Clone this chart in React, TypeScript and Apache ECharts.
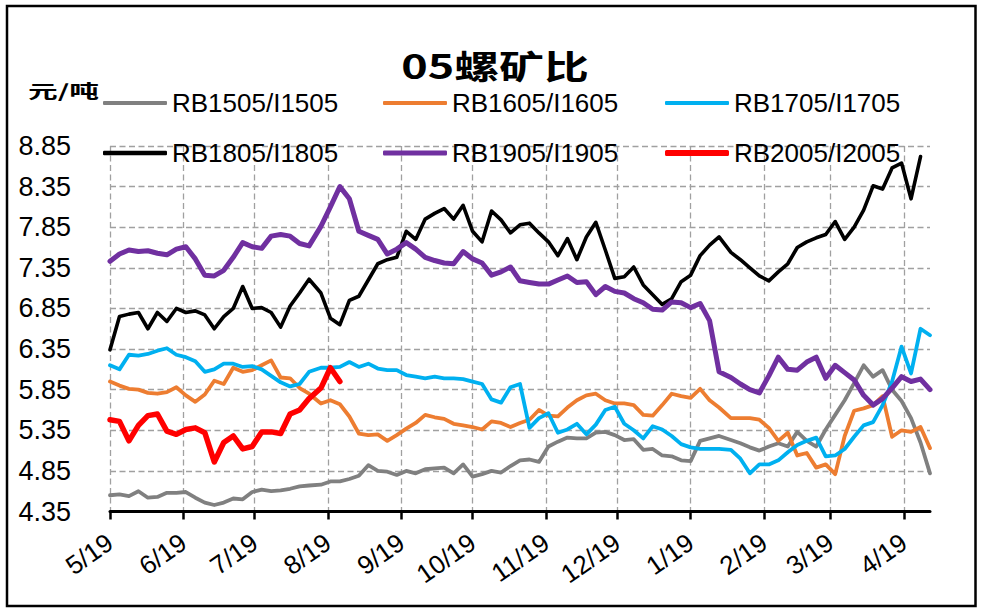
import React, { useEffect, useRef } from "react";
import * as echarts from "echarts";

// ---- axis: one category per calendar day, 5/19 .. 4/30 ----
const START_UTC = Date.UTC(2018, 4, 19);
const DAY_COUNT = 347;
const DATES: string[] = Array.from({ length: DAY_COUNT }, (_, i) => {
  const d = new Date(START_UTC + i * 86400000);
  return `${d.getUTCMonth() + 1}/${d.getUTCDate()}`;
});
// values below are read at evenly spaced dates across the span
const SAMPLE_COUNT = 87;
const sampleDay = (i: number) => Math.round((i * (DAY_COUNT - 1)) / (SAMPLE_COUNT - 1));

const Y_TICKS = [4.35, 4.85, 5.35, 5.85, 6.35, 6.85, 7.35, 7.85, 8.35, 8.85];

const TITLE = "05螺矿比";
const UNIT = "元/吨";

const NAMES = ["RB1505/I1505", "RB1605/I1605", "RB1705/I1705", "RB1805/I1805", "RB1905/I1905", "RB2005/I2005"];
const COLORS = ["#808080", "#ED7D31", "#00B0F0", "#000000", "#7030A0", "#FF0000"];

const RB1505 = [
  4.55, 4.56, 4.54, 4.60, 4.52, 4.53, 4.58, 4.58, 4.59, 4.52,
  4.46, 4.43, 4.46, 4.51, 4.50, 4.59, 4.62, 4.60, 4.61, 4.63,
  4.66, 4.67, 4.68, 4.72, 4.72, 4.75, 4.79, 4.92, 4.85, 4.84,
  4.80, 4.85, 4.82, 4.87, 4.88, 4.89, 4.82, 4.93, 4.78, 4.81,
  4.85, 4.83, 4.91, 4.98, 4.99, 4.96, 5.15, 5.21, 5.26, 5.25,
  5.25, 5.32, 5.33, 5.29, 5.23, 5.24, 5.11, 5.12, 5.04, 5.03,
  4.98, 4.97, 5.22, 5.25, 5.28, 5.23, 5.19, 5.14, 5.10, 5.15,
  5.19, 5.15, 5.33, 5.22, 5.15, 5.36, 5.54, 5.72, 5.93, 6.15,
  6.01, 6.09, 5.85, 5.71, 5.50, 5.20, 4.82,
];
const RB1605 = [
  5.95, 5.90, 5.86, 5.85, 5.81, 5.80, 5.82, 5.88, 5.78, 5.70,
  5.79, 5.96, 5.92, 6.12, 6.07, 6.09, 6.15, 6.21, 6.00, 5.99,
  5.87, 5.80, 5.68, 5.72, 5.67, 5.52, 5.31, 5.29, 5.30, 5.22,
  5.29, 5.37, 5.44, 5.54, 5.51, 5.49, 5.43, 5.41, 5.39, 5.36,
  5.46, 5.44, 5.39, 5.44, 5.48, 5.60, 5.53, 5.52, 5.63, 5.72,
  5.78, 5.80, 5.72, 5.68, 5.68, 5.66, 5.54, 5.53, 5.66, 5.80,
  5.77, 5.75, 5.86, 5.72, 5.63, 5.50, 5.50, 5.50, 5.48, 5.38,
  5.22, 5.32, 5.04, 5.07, 4.89, 4.93, 4.81, 5.28, 5.59, 5.62,
  5.66, 5.77, 5.27, 5.35, 5.33, 5.39, 5.13,
];
const RB1705 = [
  6.15, 6.10, 6.28, 6.27, 6.29, 6.33, 6.36, 6.28, 6.25, 6.20,
  6.07, 6.10, 6.17, 6.17, 6.13, 6.14, 6.10, 6.02, 5.94, 5.89,
  5.92, 6.07, 6.12, 6.12, 6.13, 6.19, 6.13, 6.17, 6.11, 6.09,
  6.09, 6.03, 6.01, 5.99, 6.01, 5.99, 5.99, 5.98, 5.95, 5.92,
  5.73, 5.69, 5.88, 5.92, 5.38, 5.50, 5.56, 5.32, 5.36, 5.43,
  5.30, 5.42, 5.60, 5.64, 5.43, 5.35, 5.25, 5.40, 5.36, 5.28,
  5.18, 5.14, 5.12, 5.12, 5.12, 5.11, 5.00, 4.82, 4.93, 4.93,
  4.98, 5.08, 5.17, 5.22, 5.26, 5.03, 5.04, 5.12, 5.27, 5.41,
  5.45, 5.66, 5.95, 6.38, 6.05, 6.60, 6.52,
];
const RB1805 = [
  6.34, 6.75, 6.78, 6.80, 6.60, 6.80, 6.69, 6.85, 6.80, 6.82,
  6.77, 6.60, 6.75, 6.85, 7.12, 6.85, 6.86, 6.80, 6.62, 6.88,
  7.04, 7.21, 7.04, 6.73, 6.65, 6.95, 7.00, 7.20, 7.40, 7.45,
  7.48, 7.80, 7.70, 7.95, 8.02, 8.08, 7.95, 8.12, 7.80, 7.67,
  8.05, 7.94, 7.78, 7.88, 7.90, 7.78, 7.67, 7.50, 7.71, 7.45,
  7.73, 7.91, 7.57, 7.22, 7.24, 7.36, 7.14, 7.02, 6.90, 6.97,
  7.18, 7.26, 7.50, 7.63, 7.73, 7.54, 7.45, 7.35, 7.25, 7.19,
  7.30, 7.40, 7.60, 7.67, 7.72, 7.76, 7.92, 7.70, 7.85, 8.06,
  8.36, 8.32, 8.58, 8.64, 8.20, 8.72,
];
const RB1905 = [
  7.43, 7.52, 7.57, 7.55, 7.56, 7.53, 7.51, 7.58, 7.61, 7.46,
  7.26, 7.25, 7.32, 7.48, 7.66, 7.61, 7.59, 7.74, 7.76, 7.74,
  7.65, 7.62, 7.86, 8.10, 8.35, 8.20, 7.80, 7.75, 7.70, 7.52,
  7.58, 7.66, 7.58, 7.48, 7.44, 7.41, 7.40, 7.55, 7.46, 7.41,
  7.26, 7.30, 7.36, 7.19, 7.17, 7.15, 7.15, 7.20, 7.25, 7.17,
  7.18, 7.02, 7.12, 7.06, 7.04, 6.97, 6.92, 6.84, 6.83, 6.93,
  6.92, 6.86, 6.91, 6.70, 6.07, 6.00, 5.92, 5.85, 5.81, 6.02,
  6.25, 6.10, 6.09, 6.19, 6.25, 5.99, 6.15, 6.06, 5.97, 5.78,
  5.66, 5.74, 5.87, 6.01, 5.95, 5.98, 5.85,
];
const RB2005 = [
  5.48, 5.46, 5.22, 5.41, 5.53, 5.55, 5.34, 5.30, 5.36, 5.38,
  5.32, 4.96, 5.20, 5.28, 5.12, 5.15, 5.33, 5.33, 5.31, 5.55,
  5.60, 5.74, 5.87, 6.12, 5.95,
];

const VALUES = [RB1505, RB1605, RB1705, RB1805, RB1905, RB2005];
const LINE_WIDTHS = [3.8, 3.8, 3.8, 3.6, 5, 5.5];
const LEGEND_ICON_H = [4, 4, 4, 4.5, 5, 6];
const LEGEND_LEFT = [103, 383, 665];
const LEGEND_TOP = [90, 140];

export default function App() {
  const ref = useRef<HTMLDivElement>(null);
  useEffect(() => {
    if (!ref.current) return;
    const chart = echarts.init(ref.current, undefined, { renderer: "svg" });
    const series = NAMES.map((name, s) => ({
      name,
      type: "line",
      data: VALUES[s].map((v, i) => [sampleDay(i), v]),
      showSymbol: false,
      symbol: "none",
      smooth: false,
      lineStyle: { color: COLORS[s], width: LINE_WIDTHS[s], join: "round", cap: "round" },
      itemStyle: { color: COLORS[s] },
      emphasis: { disabled: true },
    }));
    const legend = NAMES.map((name, s) => ({
      data: [name],
      left: LEGEND_LEFT[s % 3],
      top: LEGEND_TOP[Math.floor(s / 3)],
      padding: 0,
      icon: "roundRect",
      itemWidth: 64,
      itemHeight: LEGEND_ICON_H[s],
      selectedMode: false,
      textStyle: { fontSize: 26, fontFamily: "Liberation Sans", color: "#000" },
    }));
    const dashed = { color: "#a0a0a0", width: 1.3, type: [6, 3.5] };
    chart.setOption({
      animation: false,
      backgroundColor: "#ffffff",
      grid: { left: 110, right: 52, top: 146, bottom: 96.5, containLabel: false },
      legend,
      xAxis: {
        type: "category",
        data: DATES,
        boundaryGap: false,
        axisLine: { show: true, lineStyle: { color: "#000", width: 3 } },
        axisTick: {
          show: true,
          interval: (_i: number, v: string) => v.endsWith("/19"),
          length: 8,
          lineStyle: { color: "#000", width: 2.5 },
        },
        axisLabel: {
          interval: (_i: number, v: string) => v.endsWith("/19"),
          rotate: 35,
          margin: 28,
          fontSize: 26,
          fontFamily: "Liberation Sans",
          color: "#000",
        },
        splitLine: {
          show: true,
          interval: (_i: number, v: string) => v.endsWith("/19"),
          lineStyle: dashed,
        },
      },
      yAxis: {
        type: "value",
        min: 4.35,
        max: 8.85,
        axisLine: { show: false },
        axisTick: { show: false, customValues: Y_TICKS },
        axisLabel: {
          customValues: Y_TICKS,
          formatter: (v: number) => v.toFixed(2),
          margin: 39,
          fontSize: 27,
          fontFamily: "Liberation Sans",
          color: "#000",
        },
        splitLine: { show: true, lineStyle: dashed },
      },
      graphic: [
        {
          type: "rect",
          shape: { x: 7, y: 6, width: 968.5, height: 600 },
          style: { fill: "none", stroke: "#000", lineWidth: 2.5 },
          silent: true,
        },
        {
          type: "text",
          x: 495,
          y: 64,
          scaleX: 1.36,
          style: {
            text: TITLE,
            fontSize: 33,
            fontWeight: "bold",
            fontFamily: "Noto Sans CJK SC",
            fill: "#000",
            align: "center",
            verticalAlign: "middle",
          },
          silent: true,
        },
        {
          type: "text",
          x: 28,
          y: 90,
          scaleX: 1.65,
          style: {
            text: UNIT,
            fontSize: 18,
            fontWeight: "bold",
            fontFamily: "Noto Sans CJK SC",
            fill: "#000",
            align: "left",
            verticalAlign: "middle",
          },
          silent: true,
        },
      ],
      series,
    });
    return () => chart.dispose();
  }, []);
  return (
    <div
      ref={ref}
      style={{ position: "absolute", left: 0, top: 0, width: 982, height: 608, background: "#fff" }}
    />
  );
}
